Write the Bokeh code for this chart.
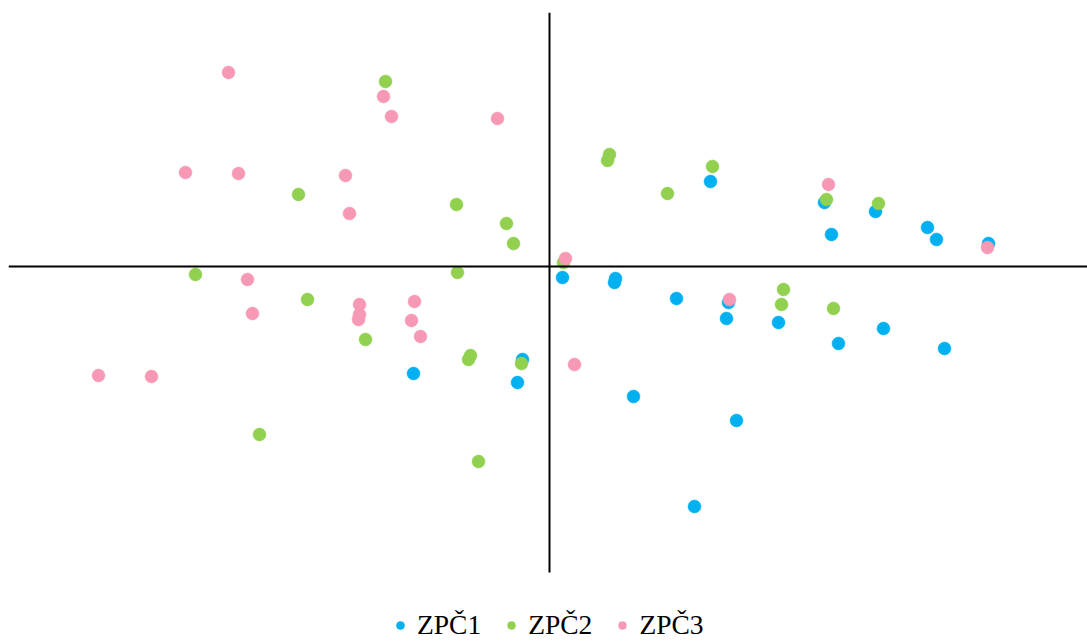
from bokeh.plotting import figure
from bokeh.models import (Range1d, Span, Legend, LegendItem, ColumnDataSource,
                          LinearAxis, FixedTicker)
from bokeh.embed import file_html
from bokeh.resources import INLINE

# Component scores (PC1 horizontal, PC2 vertical)
zpc1_x = [1.61, 2.75, 3.26, 3.78, 3.87, 4.39, 2.82, 0.13, 0.66, 0.65, 1.27, 1.79,
          1.77, 2.29, 3.34, 2.89, 3.95, -0.27, -1.36, -0.32, 0.84, 1.87, 1.45]
zpc1_y = [0.85, 0.64, 0.55, 0.39, 0.27, 0.23, 0.32, -0.11, -0.12, -0.16, -0.32, -0.36,
          -0.52, -0.56, -0.62, -0.77, -0.82, -0.93, -1.07, -1.16, -1.30, -1.54, -2.40]

zpc2_x = [-1.64, 0.60, 0.58, 1.63, 1.18, -2.51, -0.93, -0.43, -0.36, 2.77, 3.29, 0.14,
          -3.54, -0.92, -2.42, 2.34, 2.32, 2.84, -1.84, -0.79, -0.81, -0.28, -2.90, -0.71]
zpc2_y = [1.85, 1.12, 1.06, 1.00, 0.73, 0.72, 0.62, 0.43, 0.23, 0.67, 0.63, 0.04,
          -0.08, -0.06, -0.33, -0.23, -0.38, -0.42, -0.73, -0.89, -0.93, -0.97, -1.68, -1.95]

zpc3_x = [-3.21, -1.66, -1.58, -0.52, -3.64, -3.11, -2.04, -2.00, 2.79, 0.16, -3.02, -2.97,
          -1.90, -1.90, -1.91, -1.35, -1.38, -1.29, 1.80, 4.38, -4.51, -3.98, 0.25]
zpc3_y = [1.94, 1.70, 1.50, 1.48, 0.94, 0.93, 0.91, 0.53, 0.82, 0.08, -0.13, -0.47,
          -0.38, -0.48, -0.53, -0.35, -0.54, -0.70, -0.33, 0.19, -1.09, -1.10, -0.98]

series_names = ["ZPČ1", "ZPČ2", "ZPČ3"]
series_colors = ["#00B0F0", "#92D050", "#F799B4"]

# Extent of the component axes
pc1_span = (-5.41, 5.38)
pc2_span = (-3.06, 2.54)

p = figure(width=1087, height=642, output_backend="svg", toolbar_location=None,
           x_range=Range1d(*pc1_span), y_range=Range1d(-3.76, pc2_span[1]),
           min_border_left=8, min_border_right=0, min_border_top=12, min_border_bottom=0)
p.axis.visible = False
p.grid.visible = False
p.outline_line_color = None
p.background_fill_color = "white"
p.border_fill_color = "white"

# Horizontal axis through the origin
p.add_layout(Span(location=0, dimension="width", line_color="black", line_width=2))

# Vertical axis through the origin, limited to the PC2 extent, without ticks or labels
vaxis = LinearAxis(fixed_location=0, bounds=pc2_span, ticker=FixedTicker(ticks=[]),
                   axis_line_color="black", axis_line_width=2,
                   major_tick_line_color=None, minor_tick_line_color=None,
                   major_tick_in=0, major_tick_out=0, major_label_standoff=0)
p.add_layout(vaxis, "left")

items = []
for name, color, xs, ys in zip(series_names, series_colors,
                               [zpc1_x, zpc2_x, zpc3_x], [zpc1_y, zpc2_y, zpc3_y]):
    src = ColumnDataSource(dict(x=xs, y=ys))
    r = p.scatter("x", "y", source=src, size=13, fill_color=color, line_color=color,
                  line_width=0.5)
    items.append(LegendItem(label=name, renderers=[r]))

legend = Legend(items=items, orientation="horizontal", location=(382, 1),
                label_text_font="Liberation Serif", label_text_font_size="27.5px",
                label_text_color="black", glyph_width=20, glyph_height=20,
                label_height=30, label_standoff=7, spacing=20, padding=0, margin=0,
                border_line_color=None, background_fill_alpha=0)
p.add_layout(legend, "center")

open("out.html", "w").write(file_html(p, INLINE))
